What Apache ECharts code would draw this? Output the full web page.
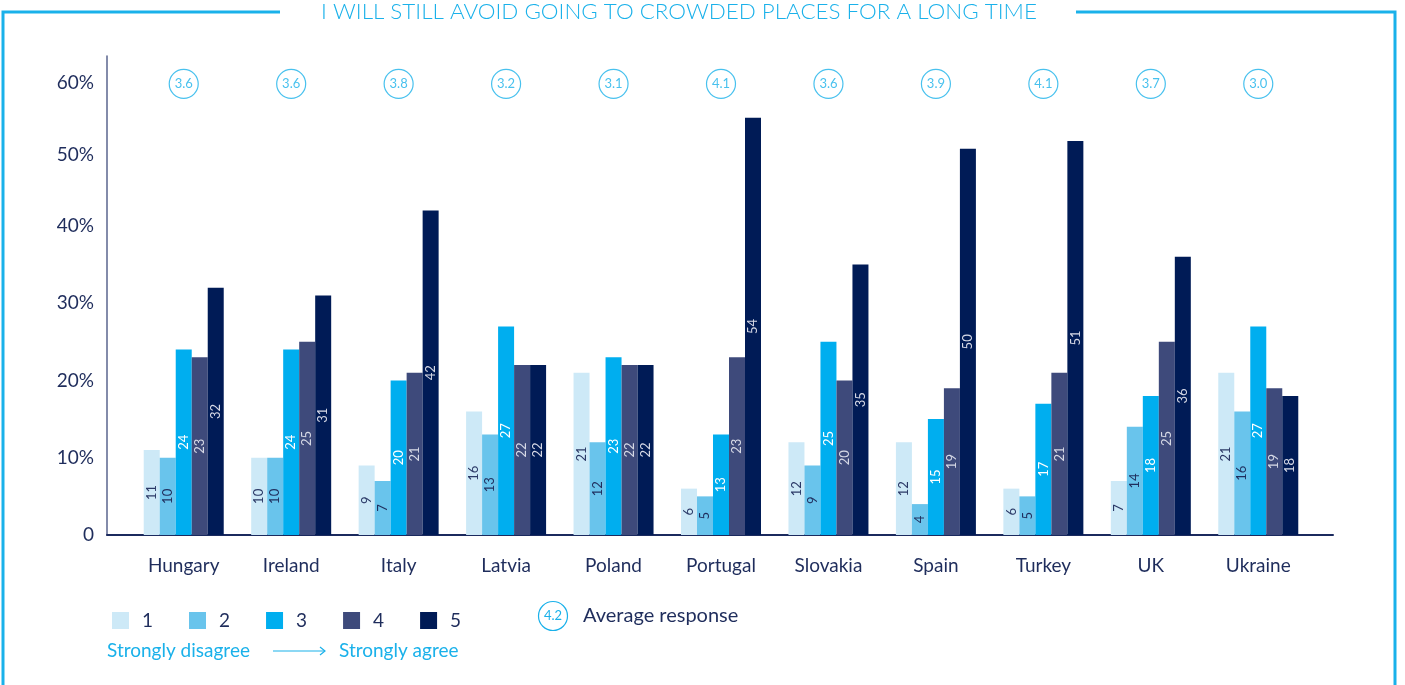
<!DOCTYPE html>
<html>
<head>
<meta charset="utf-8">
<script src="https://cdn.jsdelivr.net/npm/echarts@6/dist/echarts.min.js"></script>
<style>
	html, body { margin: 0; padding: 0; background: #fff; }
	#chart { width: 1405px; height: 685px; }
</style>
</head>
<body>
<div id="chart"></div>
<script>
const countries = ["Hungary", "Ireland", "Italy", "Latvia", "Poland", "Portugal", "Slovakia", "Spain", "Turkey", "UK", "Ukraine"]
const resp1 = [11, 10, 9, 16, 21, 6, 12, 12, 6, 7, 21]
const resp2 = [10, 10, 7, 13, 12, 5, 9, 4, 5, 14, 16]
const resp3 = [24, 24, 20, 27, 23, 13, 25, 15, 17, 18, 27]
const resp4 = [23, 25, 21, 22, 22, 23, 20, 19, 21, 25, 19]
const resp5 = [32, 31, 42, 22, 22, 54, 35, 50, 51, 36, 18]
const avgResponse = [3.6, 3.6, 3.8, 3.2, 3.1, 4.1, 3.6, 3.9, 4.1, 3.7, 3.0]
const yTicks = [0, 10, 20, 30, 40, 50, 60]

const FONT = "Lato, 'Noto Sans', sans-serif"
const NARROW = "'Liberation Sans Narrow', " + FONT
const NAVY = "#1f2d5c"
const CYAN = "#1ab1ea"
const CIRCLE_ROW = 58.4 // where the average circles sit, in axis units

const bars = [
	{ name: "1", data: resp1, color: "#cde9f7", text: "#2a3866" },
	{ name: "2", data: resp2, color: "#69c4ec", text: "#1f2d5c" },
	{ name: "3", data: resp3, color: "#00aeef", text: "#ffffff" },
	{ name: "4", data: resp4, color: "#3e4a7b", text: "#d6d9e6" },
	{ name: "5", data: resp5, color: "#001b56", text: "#d6d9e6" },
]

// the printed tick labels drift a little below their ticks near the top
const labelDrop = { 50: 12, 60: 22 }

const chart = echarts.init(document.getElementById("chart"), null, { renderer: "canvas" })

const option = {
	backgroundColor: "#ffffff",
	animation: false,
	textStyle: { fontFamily: FONT },
	grid: [
		{ left: 130, right: 93, top: 56, bottom: 150 },
		{ left: 107, right: 72, top: 56, bottom: 150 },
	],
	legend: {
		data: bars.map((b) => b.name),
		left: 107,
		top: 606,
		icon: "rect",
		itemWidth: 17,
		itemHeight: 17,
		itemGap: 36,
		selectedMode: false,
		textStyle: { fontSize: 19, color: NAVY, fontFamily: FONT, padding: [0, 0, 0, 8] },
	},
	xAxis: [
		{
			type: "category",
			data: countries,
			gridIndex: 0,
			axisLine: { show: false },
			axisTick: { show: false },
			axisLabel: { fontSize: 19, color: NAVY, margin: 21, fontFamily: FONT },
		},
		{
			type: "value",
			gridIndex: 1,
			min: 0,
			max: 1,
			axisLine: { show: true, lineStyle: { color: "#1b2a5e", width: 2 } },
			axisTick: { show: false },
			axisLabel: { show: false },
			splitLine: { show: false },
		},
	],
	yAxis: [
		{
			type: "value",
			gridIndex: 0,
			min: 0,
			max: 62,
			offset: 23,
			axisLine: { show: true, lineStyle: { color: "#5a648e", width: 1.5 } },
			axisTick: { show: false },
			splitLine: { show: false },
			axisLabel: {
				fontSize: 19,
				color: NAVY,
				margin: 13,
				fontFamily: FONT,
				customValues: yTicks,
				formatter: (v) => {
					const t = v === 0 ? "0" : v + "%"
					return labelDrop[v] ? "{d" + v + "|" + t + "}" : t
				},
				rich: {
					d50: { fontSize: 19, color: NAVY, fontFamily: FONT, padding: [labelDrop[50], 0, 0, 0] },
					d60: { fontSize: 19, color: NAVY, fontFamily: FONT, padding: [labelDrop[60], 0, 0, 0] },
				},
			},
		},
		{ type: "value", gridIndex: 1, show: false, min: 0, max: 1 },
	],
	series: [
		...bars.map((b) => ({
			name: b.name,
			type: "bar",
			data: b.data,
			barWidth: 16,
			barGap: "0%",
			itemStyle: { color: b.color },
			label: {
				show: true,
				position: "inside",
				rotate: 90,
				fontSize: 13,
				color: b.text,
				fontFamily: FONT,
			},
		})),
		{
			name: "avg",
			type: "scatter",
			data: avgResponse.map((v, i) => ({ value: [i, CIRCLE_ROW], avg: v })),
			symbolSize: 29,
			clip: false,
			itemStyle: { color: "#ffffff", borderColor: CYAN, borderWidth: 1.2 },
			label: {
				show: true,
				position: "inside",
				fontSize: 13,
				color: CYAN,
				fontFamily: NARROW,
				formatter: (p) => p.data.avg.toFixed(1),
			},
			emphasis: { disabled: true },
		},
	],
	graphic: [
		// frame round the chart
		{ type: "polyline", shape: { points: [[280, 12], [3, 12], [3, 685]] }, style: { stroke: CYAN, lineWidth: 3, fill: null } },
		{ type: "polyline", shape: { points: [[1076, 12], [1395, 12], [1395, 685]] }, style: { stroke: CYAN, lineWidth: 3, fill: null } },
		{
			type: "text",
			x: 679,
			y: 12,
			style: {
				text: "I WILL STILL AVOID GOING TO CROWDED PLACES FOR A LONG TIME",
				fill: CYAN,
				font: "300 22.4px " + FONT,
				textAlign: "center",
				textVerticalAlign: "middle",
			},
		},
		// average response key
		{ type: "circle", shape: { cx: 553, cy: 616, r: 14.5 }, style: { fill: "#fff", stroke: CYAN, lineWidth: 1.2 } },
		{
			type: "text",
			x: 553,
			y: 616,
			style: { text: "4.2", fill: CYAN, font: "13px " + NARROW, textAlign: "center", textVerticalAlign: "middle" },
		},
		{
			type: "text",
			x: 583,
			y: 616,
			style: { text: "Average response", fill: NAVY, font: "20px " + FONT, textVerticalAlign: "middle" },
		},
		// scale direction
		{
			type: "text",
			x: 107,
			y: 651,
			style: { text: "Strongly disagree", fill: CYAN, font: "19px " + FONT, textVerticalAlign: "middle" },
		},
		{ type: "line", shape: { x1: 273, y1: 651, x2: 325, y2: 651 }, style: { stroke: CYAN, lineWidth: 1.2 } },
		{ type: "polyline", shape: { points: [[320, 647], [325, 651], [320, 655]] }, style: { stroke: CYAN, lineWidth: 1.2, fill: null } },
		{
			type: "text",
			x: 339,
			y: 651,
			style: { text: "Strongly agree", fill: CYAN, font: "19px " + FONT, textVerticalAlign: "middle" },
		},
	],
}

chart.setOption(option)
</script>
</body>
</html>
